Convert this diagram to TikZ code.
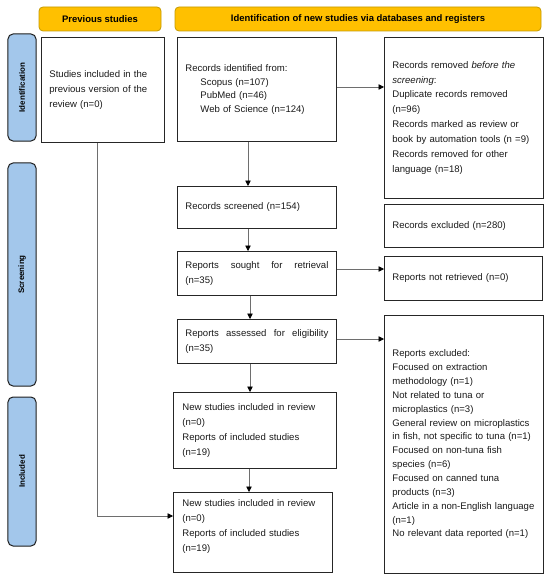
\documentclass[tikz,border=0pt]{standalone}
\usepackage{fontspec}
\setmainfont{Liberation Sans}
\usetikzlibrary{arrows.meta}
\definecolor{hdrfill}{HTML}{FFC000}
\definecolor{hdrdraw}{HTML}{C49A00}
\definecolor{sidefill}{HTML}{A3C7EB}
\definecolor{sidedraw}{HTML}{1E1E1E}
\definecolor{linegray}{HTML}{6E6E6E}
\begin{document}
\begin{tikzpicture}[x=1bp,y=-1bp,
  hdr/.style={draw=hdrdraw, fill=hdrfill, line width=0.8bp, rounded corners=4bp, inner sep=0pt,
    font=\fontsize{9.5}{11}\selectfont\bfseries},
  side/.style={draw=sidedraw, fill=sidefill, line width=1bp, rounded corners=5bp, inner sep=0pt,
    rotate=90, font=\fontsize{8}{10}\selectfont\bfseries},
  box/.style={draw=black!85, line width=0.8bp, anchor=north west, inner xsep=8bp, inner ysep=0pt,
    align=left, text=black!90, font=\fontsize{9.6}{15}\selectfont},
  conn/.style={draw=linegray, line width=0.8bp, -{Triangle[length=5.5bp,width=5.5bp,color=black]}},
  plain/.style={draw=linegray, line width=0.8bp}
]
\useasboundingbox (0,0) rectangle (550,579);

% headers
\node[hdr, minimum width=122bp, minimum height=24bp] (h1) at (100,19) {Previous studies};
\node[hdr, minimum width=366bp, minimum height=24bp] (h2) at (358,19) {Identification of new studies via databases and registers};

% side bars
\node[side, minimum width=107bp, minimum height=28bp] (s1) at (22,87.5) {Identification};
\node[side, minimum width=223bp, minimum height=28bp] (s2) at (22,274.5) {Screening};
\node[side, minimum width=149bp, minimum height=28bp] (s3) at (22,471.5) {Included};

% boxes
\node[box, text width=107bp, minimum height=105bp] (b0) at (41,37)
  {Studies included in the\\previous version of the\\review (n=0)};
\node[box, text width=143bp, minimum height=104bp, font=\fontsize{9.6}{13.6}\selectfont] (b1) at (177,37)
  {Records identified from:\\\hspace*{15bp}Scopus (n=107)\\\hspace*{15bp}PubMed (n=46)\\\hspace*{15bp}Web of Science (n=124)};
\node[box, text width=143bp, minimum height=161bp] (r1) at (384,37)
  {Records removed \textit{before the}\\\textit{screening}:\\Duplicate records removed\\(n=96)\\Records marked as review or\\book by automation tools (n =9)\\Records removed for other\\language (n=18)};
\node[box, text width=143bp, minimum height=42bp] (b2) at (177,186)
  {Records screened (n=154)};
\node[box, text width=143bp, minimum height=43bp] (r2) at (384,204)
  {Records excluded (n=280)};
\node[box, text width=143bp, minimum height=44bp] (b3) at (177,251)
  {\makebox[143bp][l]{Reports\hfill sought\hfill for\hfill retrieval}\\(n=35)};
\node[box, text width=142bp, minimum height=44bp] (r3) at (384,256)
  {Reports not retrieved (n=0)};
\node[box, text width=143bp, minimum height=44bp] (b4) at (177,319)
  {\makebox[143bp][l]{Reports\hfill assessed\hfill for\hfill eligibility}\\(n=35)};
\node[box, text width=143bp, minimum height=258bp, font=\fontsize{9.6}{13.9}\selectfont] (r4) at (384,315)
  {Reports excluded:\\Focused on extraction\\methodology (n=1)\\Not related to tuna or\\microplastics (n=3)\\General review on microplastics\\in fish, not specific to tuna (n=1)\\Focused on non-tuna fish\\species (n=6)\\Focused on canned tuna\\products (n=3)\\Article in a non-English language\\(n=1)\\No relevant data reported (n=1)};
\node[box, text width=145bp, minimum height=76bp, inner xsep=9bp] (b5) at (173,392)
  {New studies included in review\\(n=0)\\Reports of included studies\\(n=19)};
\node[box, text width=141bp, minimum height=80bp, inner xsep=9bp] (b6) at (173,492)
  {New studies included in review\\(n=0)\\Reports of included studies\\(n=19)\\[-1bp]\mbox{}};

% helper coordinates
\coordinate (xa) at (248,0);
\coordinate (xb) at (250,0);
\coordinate (xc) at (249,0);
\coordinate (xl) at (97,0);
\coordinate (ya) at (0,87);
\coordinate (yb) at (0,269);
\coordinate (yc) at (0,339);
\coordinate (yl) at (0,516);
\coordinate (corner) at (xl |- yl);

% connectors
\draw[conn] (b1.south -| xa) -- (b2.north -| xa);
\draw[conn] (b2.south -| xa) -- (b3.north -| xa);
\draw[conn] (b3.south -| xb) -- (b4.north -| xb);
\draw[conn] (b4.south -| xb) -- (b5.north -| xb);
\draw[conn] (b5.south -| xc) -- (b6.north -| xc);
\draw[conn] (b1.east |- ya) -- (r1.west |- ya);
\draw[conn] (b3.east |- yb) -- (r3.west |- yb);
\draw[conn] (b4.east |- yc) -- (r4.west |- yc);
\draw[plain] (b0.south -| xl) -- (corner);
\draw[conn] (corner) -- (b6.west |- yl);
\end{tikzpicture}
\end{document}
